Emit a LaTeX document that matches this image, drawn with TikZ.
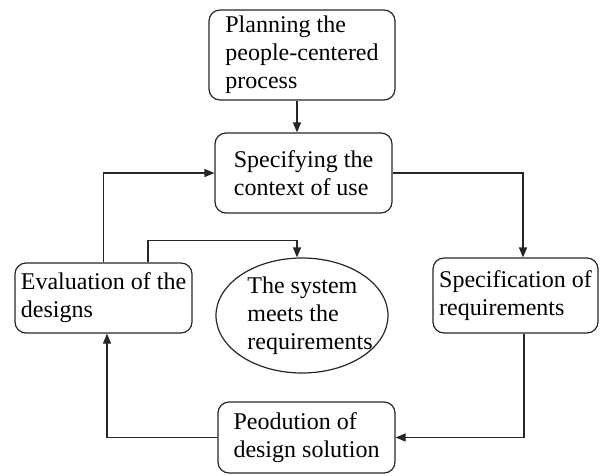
\documentclass[tikz,border=0pt]{standalone}
\usepackage{fontspec}
\setmainfont{Liberation Serif}
\usetikzlibrary{arrows.meta,shapes.geometric}
\begin{document}
\begin{tikzpicture}[x=1pt,y=-1pt,
  txt/.style={font=\fontsize{24}{28}\selectfont, align=left},
  box/.style={txt, draw=black!85, line width=1.2pt, rounded corners=11pt, inner sep=2pt},
  arr/.style={draw=black!85, line width=1.2pt, -{Triangle[length=10pt,width=8pt]}}]
\useasboundingbox (0,0) rectangle (600,475);
\node[box, minimum width=186, minimum height=90] (plan) at (302,55) {Planning the\\people-centered\\process};
\node[box, minimum width=177, minimum height=80] (spec) at (303.5,173) {Specifying the\\context of use};
\node[box, minimum width=177, minimum height=70] (eval) at (103.5,298) {Evaluation of the\\designs};
\node[ellipse, draw=black!85, line width=1.2pt, minimum width=172, minimum height=115, inner sep=0pt] (sys) at (302,315.5) {};
\node[txt] (systxt) at (310,316) {The system\\meets the\\requirements};
\node[box, minimum width=165, minimum height=75] (specr) at (515.5,295.5) {Specification of\\requirements};
\node[box, minimum width=177, minimum height=71] (prod) at (306.5,437.5) {Peodution of\\design solution};
\draw[arr] ([xshift=-5pt]plan.south) -- ([xshift=-5pt]plan.south |- spec.north);
\draw[arr] (eval.north) |- (spec.west);
\draw[arr] ([xshift=44.5pt]eval.north) -- ++(0,-22) -| ([xshift=-5pt]sys.north);
\draw[arr] (spec.east) -| ([xshift=7.5pt]specr.north);
\draw[arr] ([xshift=8.5pt]specr.south) |- (prod.east);
\draw[arr] (prod.west) -| ([xshift=3.5pt]eval.south);
\end{tikzpicture}
\end{document}
